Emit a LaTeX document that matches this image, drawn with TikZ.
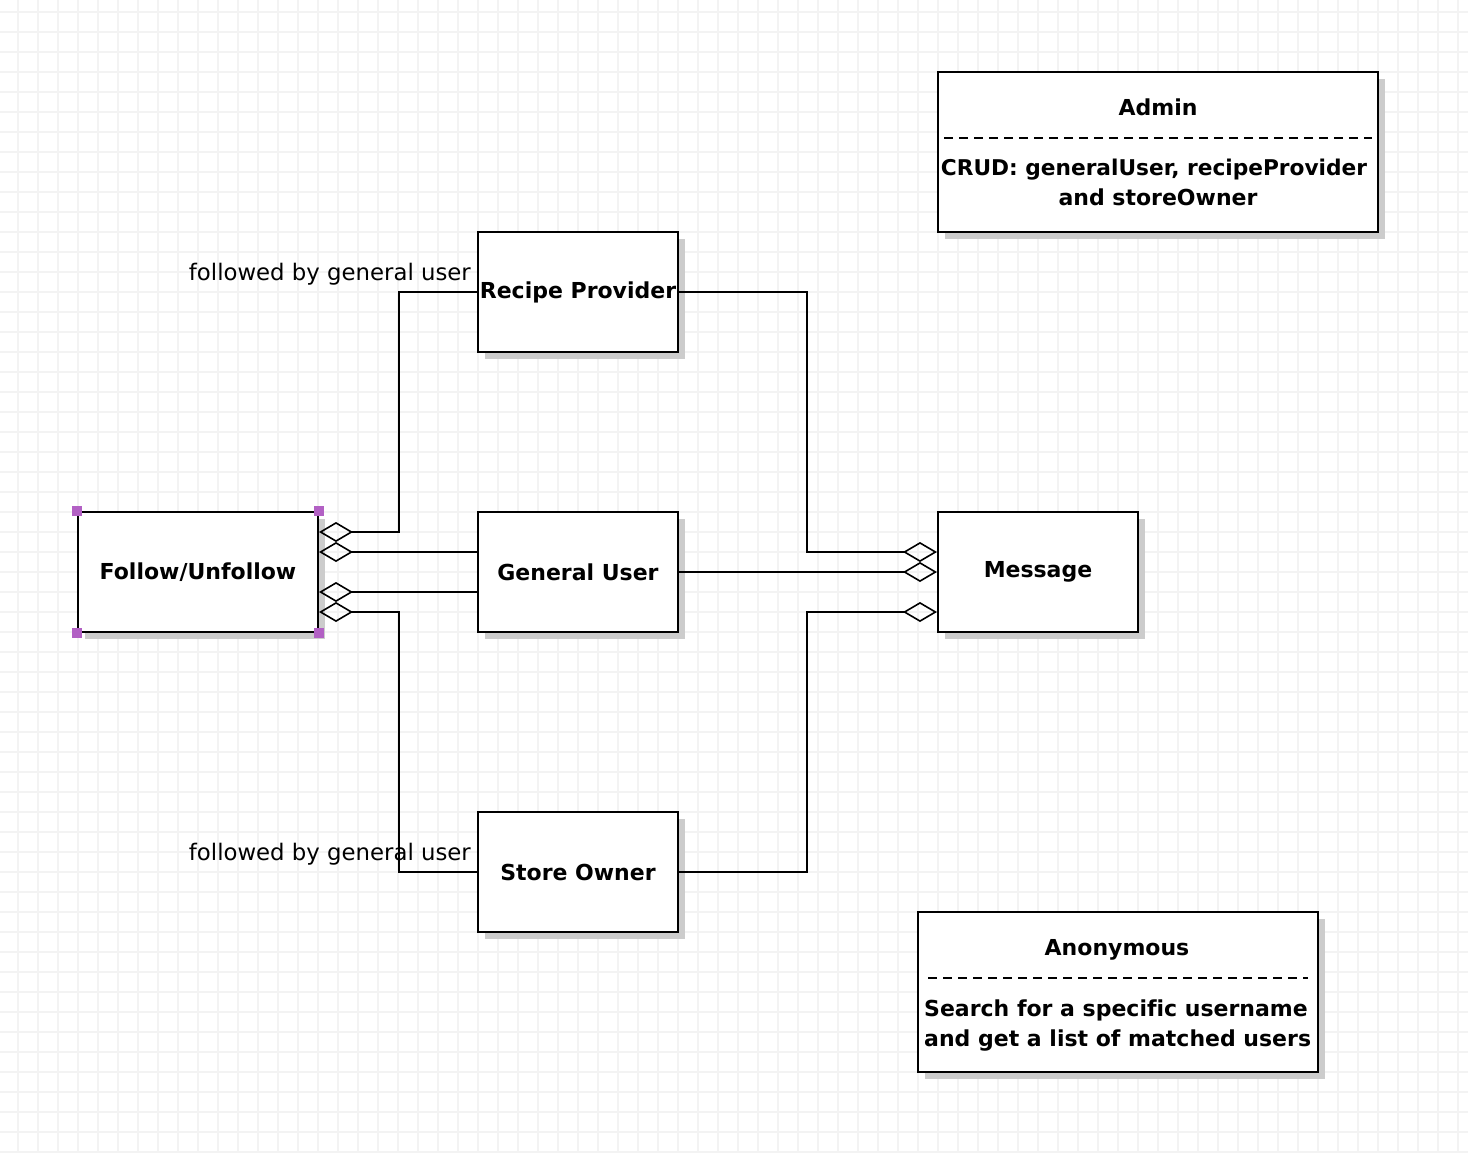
\documentclass[tikz,border=0pt]{standalone}
\usepackage{fontspec}
\setmainfont[Ligatures={NoCommon}]{DejaVu Sans}
\usetikzlibrary{arrows.meta,calc,shadows}
\definecolor{gridc}{RGB}{243,243,243}
\definecolor{shadowc}{RGB}{204,204,204}
\definecolor{handlec}{RGB}{178,96,196}
\begin{document}
\begin{tikzpicture}[x=1pt,y=-1pt,
  box/.style={draw, line width=2pt, fill=white, minimum width=200pt, minimum height=120pt, inner sep=0pt,
    font=\bfseries\fontsize{22}{30}\selectfont,
    drop shadow={shadow xshift=7pt, shadow yshift=-7pt, fill=shadowc, opacity=1}},
  boldtext/.style={font=\bfseries\fontsize{22}{30}\selectfont, inner sep=0pt},
  agg/.style={line width=1.6pt, -{Diamond[open, length=34pt, width=20pt, line width=1.6pt]}},
  lbl/.style={font=\fontsize{22.8}{30}\selectfont, anchor=base east, inner sep=0pt},
  sep/.style={line width=2pt, dash pattern=on 9pt off 6pt},
  handlebox/.style={fill=handlec, minimum size=10pt, inner sep=0pt, draw=none}
]
\useasboundingbox (0,0) rectangle (1468,1152);
\fill[white] (0,0) rectangle (1468,1152);
\foreach \x in {18,38,...,1458} \draw[gridc, line width=1.5pt] (\x,0) -- (\x,1152);
\foreach \y in {12,32,...,1152} \draw[gridc, line width=1.5pt] (0,\y) -- (1468,\y);

% entity boxes
\node[box, minimum width=240pt] (fu) at (198,572) {Follow/Unfollow};
\node[box] (rp) at (578,292) {Recipe Provider};
\node[box] (gu) at (578,572) {General User};
\node[box] (so) at (578,872) {Store Owner};
\node[box] (msg) at (1038,572) {Message};

% note boxes
\node[box, minimum width=440pt, minimum height=160pt] (admin) at (1158,152) {};
\node[boldtext, anchor=base] (admint) at (1158,115) {Admin};
\draw[sep] (944,138) -- (1372,138);
\node[boldtext, anchor=base, font=\bfseries\fontsize{21.7}{30}\selectfont] (admin1) at (1154,175) {CRUD: generalUser, recipeProvider};
\node[boldtext, anchor=base] (admin2) at (1158,205) {and storeOwner};

\node[box, minimum width=400pt, minimum height=160pt] (anon) at (1118,992) {};
\node[boldtext, anchor=base] (anont) at (1117,955) {Anonymous};
\draw[sep] (928,978) -- (1308,978);
\node[boldtext, anchor=base west] (anon1) at (924,1016) {Search for a specific username};
\node[boldtext, anchor=base west] (anon2) at (924,1046) {and get a list of matched users};

% labels
\node[lbl] (l1) at (471,280) {followed by general user};
\node[lbl] (l2) at (471,860) {followed by general user};

% connectors
\draw[agg] (rp.west) -| ($(fu.east)+(80,-40)$) -- ($(fu.east)+(0,-40)$);
\draw[agg] ($(gu.west)+(0,-20)$) -- ($(fu.east)+(0,-20)$);
\draw[agg] ($(gu.west)+(0,20)$) -- ($(fu.east)+(0,20)$);
\draw[agg] (so.west) -| ($(fu.east)+(80,40)$) -- ($(fu.east)+(0,40)$);
\draw[agg] (rp.east) -| ($(msg.west)+(-130,-20)$) -- ($(msg.west)+(0,-20)$);
\draw[agg] (gu.east) -- (msg.west);
\draw[agg] (so.east) -| ($(msg.west)+(-130,40)$) -- ($(msg.west)+(0,40)$);

% selection handles
\node[handlebox] (h1) at (fu.north west) {};
\node[handlebox] (h2) at (fu.north east) {};
\node[handlebox] (h3) at (fu.south west) {};
\node[handlebox] (h4) at (fu.south east) {};
\end{tikzpicture}
\end{document}
